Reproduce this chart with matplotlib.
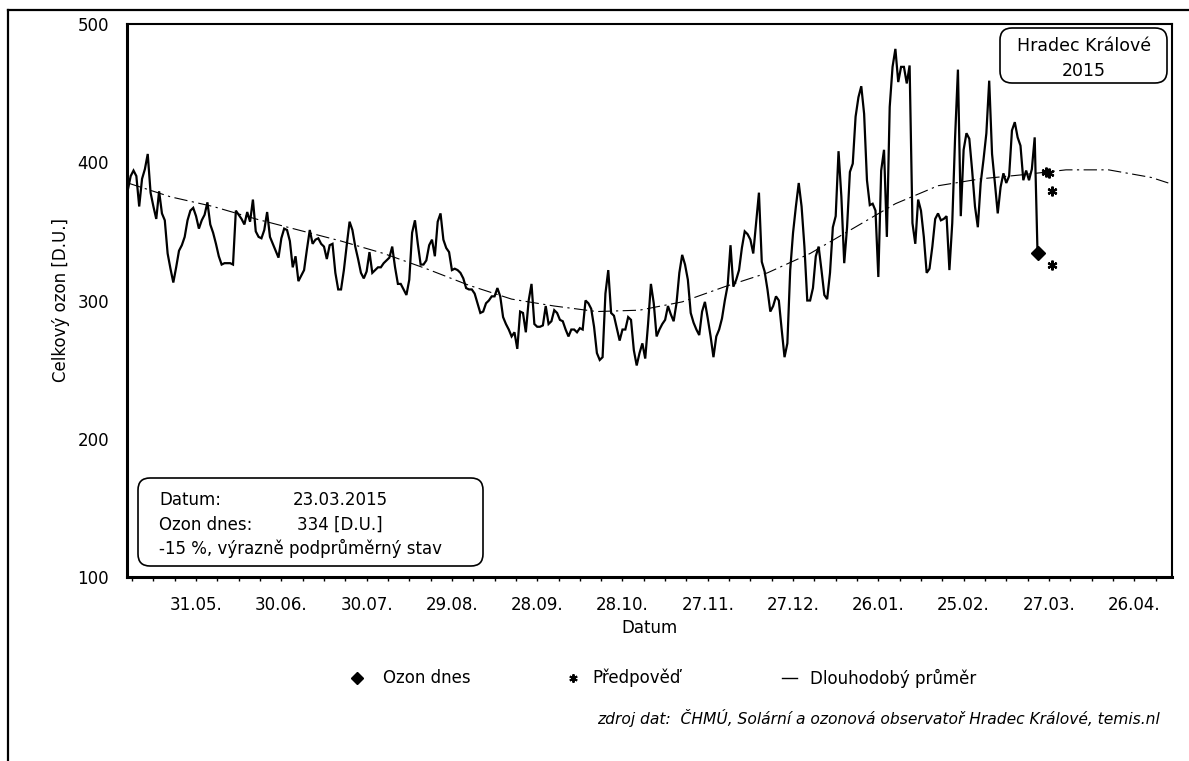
import matplotlib
matplotlib.use('Agg')
import matplotlib.pyplot as plt
from matplotlib.patches import FancyBboxPatch
from matplotlib.lines import Line2D
from matplotlib.transforms import IdentityTransform
import pandas as pd

plt.rcParams['font.family'] = ['DejaVu Sans']

# ---------------- data ----------------
start_date = '2014-05-07'
ozone = [
    380, 390, 394, 390, 368, 388, 395, 406, 378, 368,
    359, 379, 363, 358, 334, 323, 313, 324, 336, 340,
    346, 358, 365, 367, 361, 352, 358, 362, 371, 355,
    349, 341, 332, 326, 327, 327, 327, 326, 365, 362,
    359, 355, 364, 357, 373, 350, 346, 345, 351, 364,
    346, 341, 336, 331, 345, 352, 351, 343, 324, 332,
    314, 318, 322, 337, 351, 341, 344, 345, 341, 339,
    330, 340, 341, 320, 308, 308, 322, 340, 357, 351,
    339, 330, 320, 316, 321, 335, 320, 322, 324, 324,
    327, 329, 331, 339, 324, 312, 312, 308, 304, 315,
    349, 358, 341, 326, 326, 329, 340, 344, 332, 357,
    363, 344, 338, 335, 322, 323, 322, 320, 316, 309,
    308, 308, 305, 298, 291, 292, 298, 300, 303, 303,
    309, 303, 288, 283, 279, 274, 277, 265, 292, 291,
    277, 300, 312, 283, 281, 281, 282, 296, 283, 285,
    293, 291, 286, 285, 279, 274, 279, 279, 277, 280,
    279, 300, 298, 294, 281, 262, 257, 259, 305, 322,
    291, 289, 280, 271, 279, 279, 288, 286, 264, 253,
    262, 269, 258, 283, 312, 298, 274, 279, 283, 286,
    296, 290, 285, 298, 320, 333, 326, 315, 291, 284,
    279, 275, 292, 299, 287, 274, 259, 274, 279, 287,
    300, 311, 340, 310, 315, 322, 338, 350, 348, 344,
    334, 356, 378, 328, 321, 308, 292, 296, 303, 300,
    279, 259, 269, 322, 349, 368, 385, 368, 339, 300,
    300, 309, 332, 339, 322, 304, 301, 320, 353, 361,
    408, 375, 327, 353, 393, 399, 433, 447, 455, 435,
    387, 369, 370, 365, 317, 394, 409, 346, 440, 469,
    482, 458, 469, 469, 457, 470, 356, 341, 373, 365,
    346, 320, 323, 339, 359, 363, 358, 359, 361, 322,
    356, 418, 467, 361, 409, 421, 417, 394, 368, 353,
    385, 402, 421, 459, 406, 385, 363, 382, 392, 385,
    390, 423, 429, 418, 412, 387, 394, 387, 395, 418,
]
today_date = '2015-03-23'
today_value = 334

forecast_dates = ['2015-03-26', '2015-03-27', '2015-03-28', '2015-03-28']
forecast_values = [393, 392, 379, 326]

mean_dates = ['2014-05-07', '2014-05-22', '2014-06-06', '2014-06-21', '2014-07-06',
              '2014-07-21', '2014-08-05', '2014-08-20', '2014-09-04', '2014-09-19',
              '2014-10-04', '2014-10-19', '2014-11-03', '2014-11-18', '2014-12-03',
              '2014-12-18', '2015-01-02', '2015-01-17', '2015-02-01', '2015-02-16',
              '2015-03-03', '2015-03-18', '2015-04-02', '2015-04-17', '2015-05-02',
              '2015-05-08']
mean_values = [385, 375, 368, 359, 351, 343, 334, 323, 311, 301,
               296, 292, 293, 299, 310, 320, 334, 352, 370, 383,
               388, 391, 394.5, 394.5, 389, 385]

x_tick_labels = ['31.05.', '30.06.', '30.07.', '29.08.', '28.09.', '28.10.',
                 '27.11.', '27.12.', '26.01.', '25.02.', '27.03.', '26.04.']
y_ticks = [100, 200, 300, 400, 500]

station_title = 'Hradec Králové\n2015'
info_labels = ['Datum:', 'Ozon dnes:']
info_values = ['23.03.2015', '334 [D.U.]']
info_status = '-15 %, výrazně podprůměrný stav'
legend_labels = ['Ozon dnes', 'Předpověď', 'Dlouhodobý průměr']
source_text = 'zdroj dat:  ČHMÚ, Solární a ozonová observatoř Hradec Králové, temis.nl'

# ---------------- figure ----------------
W, H = 1189, 761
fig = plt.figure(figsize=(W / 100, H / 100), dpi=100)
fig.patch.set_facecolor('white')

def fx(px):
    return px / W

def fy(py):
    return 1 - py / H

ax = fig.add_axes([fx(127), fy(577), fx(1172) - fx(127), fy(24) - fy(577)])

base = pd.Timestamp(start_date)
dates = pd.date_range(start_date, periods=len(ozone), freq='D')
all_dates = list(dates) + [pd.Timestamp(today_date)]
all_vals = ozone + [today_value]

ax.plot(pd.to_datetime(mean_dates), mean_values, color='black', lw=0.8,
        linestyle=(0, (12, 4, 2, 4)), zorder=2)
ax.plot(all_dates, all_vals, color='black', lw=1.6, zorder=3,
        solid_joinstyle='miter')
ax.plot([pd.Timestamp(today_date)], [today_value], marker='D', color='black',
        markersize=7, linestyle='none', zorder=4)
ax.plot(pd.to_datetime(forecast_dates), forecast_values, marker=(6, 2, 0),
        color='black', markersize=7, mew=1.6, linestyle='none', zorder=4)

ax.set_ylim(100, 500)
ax.set_yticks(y_ticks)
ax.set_xlim(base - pd.Timedelta(hours=7), base + pd.Timedelta(days=367.3))

major = pd.date_range('2014-05-31', periods=len(x_tick_labels), freq='30D')
ax.set_xticks(list(major))
ax.set_xticklabels(x_tick_labels)
minor = pd.date_range(base + pd.Timedelta(days=1.5), base + pd.Timedelta(days=367),
                      freq='180h')
ax.set_xticks(list(minor), minor=True)

ax.tick_params(axis='y', length=0, pad=13, labelsize=12)
ax.tick_params(axis='x', which='both', length=3, width=1, pad=11, labelsize=12,
               direction='out')

for s in ['left', 'bottom']:
    ax.spines[s].set_linewidth(2.2)
for s in ['top', 'right']:
    ax.spines[s].set_linewidth(1.5)

ax.set_ylabel('Celkový ozon [D.U.]', fontsize=12)
ax.yaxis.set_label_coords((70 - 127) / 1045, 0.5)
ax.set_xlabel('Datum', fontsize=12)
ax.xaxis.set_label_coords(0.5, (577 - 619) / 553)

# station box
tb = FancyBboxPatch((1000, H - 83), 167, 55,
                    boxstyle='round,pad=0,rounding_size=12',
                    transform=IdentityTransform(), facecolor='white',
                    edgecolor='black', lw=1.2, zorder=5)
fig.patches.append(tb)
t1, t2 = station_title.split('\n')
fig.text(fx(1084), fy(51), t1, ha='center', va='baseline', fontsize=12.5, zorder=8)
fig.text(fx(1084), fy(76), t2, ha='center', va='baseline', fontsize=12.5, zorder=8)

# info box
ib = FancyBboxPatch((138, H - 566), 345, 88,
                    boxstyle='round,pad=0,rounding_size=12',
                    transform=IdentityTransform(), facecolor='white',
                    edgecolor='black', lw=1.2, zorder=5)
fig.patches.append(ib)
kw = dict(ha='left', va='baseline', fontsize=12, zorder=8)
fig.text(fx(159), fy(505), info_labels[0], **kw)
fig.text(fx(293), fy(505), info_values[0], **kw)
fig.text(fx(159), fy(530), info_labels[1], **kw)
fig.text(fx(297), fy(530), info_values[1], **kw)
fig.text(fx(159), fy(554), info_status, **kw)

# legend (bottom)
ly = fy(678)
fig.add_artist(Line2D([fx(357)], [ly], marker='D', color='black', markersize=6,
                      linestyle='none'))
fig.text(fx(383), ly, legend_labels[0], ha='left', va='center', fontsize=12)
fig.add_artist(Line2D([fx(573)], [ly], marker=(6, 2, 0), color='black',
                      markersize=6, mew=1.4, linestyle='none'))
fig.text(fx(592), ly, legend_labels[1], ha='left', va='center', fontsize=12)
fig.add_artist(Line2D([fx(782), fx(797)], [ly, ly], color='black', lw=1))
fig.text(fx(810), ly, legend_labels[2], ha='left', va='center', fontsize=12)

# source
fig.text(fx(1160), fy(718), source_text, ha='right', va='center', fontsize=11.2,
         style='italic')

# outer frame lines
fig.add_artist(Line2D([fx(8), 1], [fy(10), fy(10)], color='black', lw=1.6))
fig.add_artist(Line2D([fx(8), fx(8)], [fy(10), 0], color='black', lw=1.6))

fig.savefig('out.png', dpi=100, facecolor='white')
